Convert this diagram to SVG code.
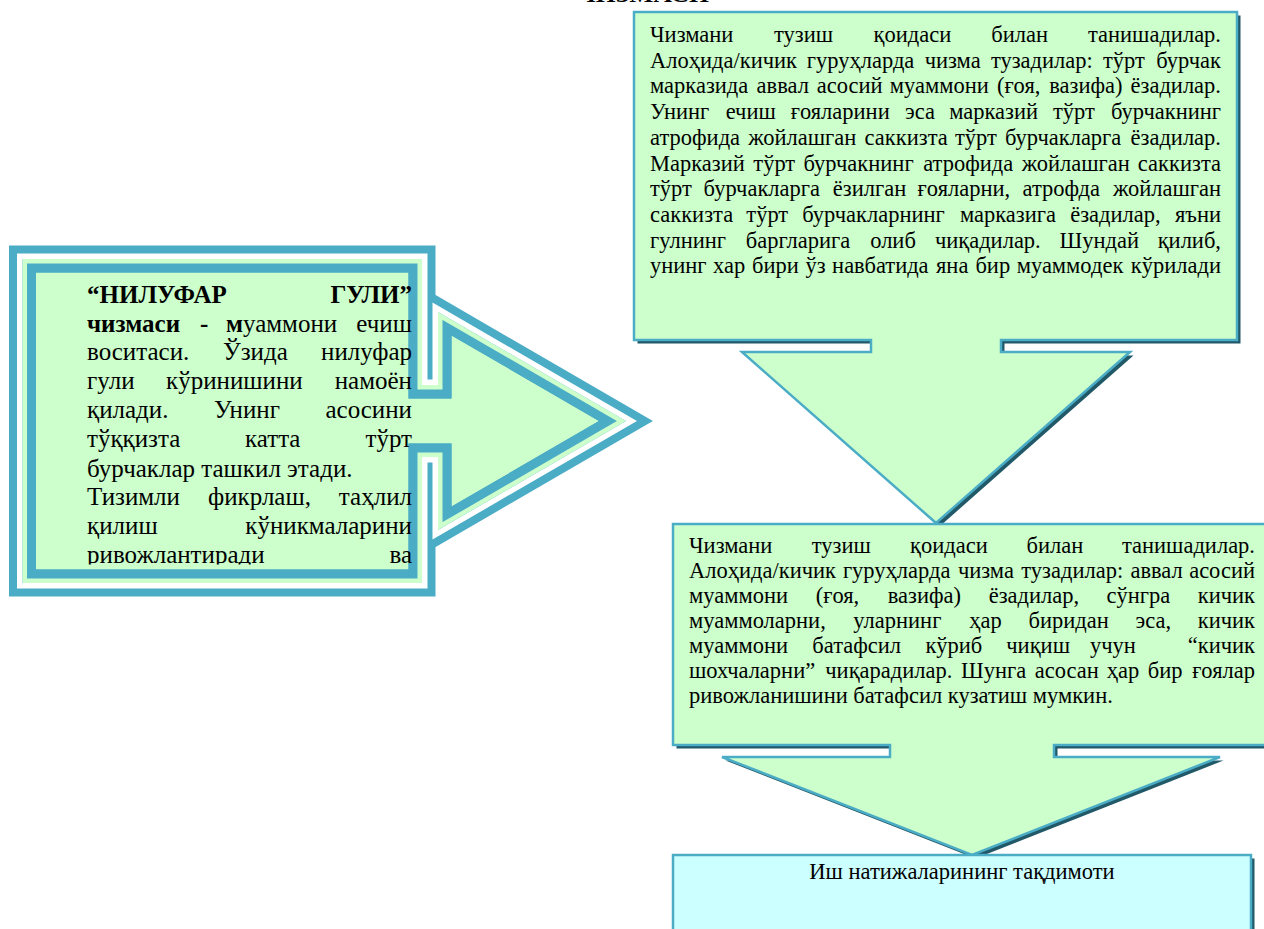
<svg xmlns="http://www.w3.org/2000/svg" width="1264" height="929" viewBox="0 0 1264 929">
<style>
.t{font-family:"Liberation Serif","Times New Roman",serif;font-size:22.5px;fill:#000}
.tl{font-family:"Liberation Serif","Times New Roman",serif;font-size:25px;fill:#000}
.b{font-weight:bold}
.e{text-anchor:end}
.m{text-anchor:middle}
.box{fill:#CCFFCC;stroke:#4BACC6;stroke-width:2.5;stroke-linejoin:miter}
.cy{fill:#CCFFFF;stroke:#4BACC6;stroke-width:2.5}
.sh{fill:#215968}
</style>
<defs>
<clipPath id="lin"><path d="M22.5,259 H422 V385 H438 V312 L626,421 L438,530 V457 H422 V583 H22.5 Z"/></clipPath>
<clipPath id="ltxt"><rect x="0" y="0" width="440" height="564.5"/></clipPath>
</defs>
<rect width="1264" height="929" fill="#fff"/>
<text class="t b" x="577" y="2" font-size="24" textLength="132" lengthAdjust="spacingAndGlyphs">ЧИЗМАСИ</text>

<g id="connectors"></g>

<g id="node-left">
<path d="M22.5,259 H422 V385 H438 V312 L626,421 L438,530 V457 H422 V583 H22.5 Z" fill="#CCFFCC" stroke="#4BACC6" stroke-width="27"/>
<path d="M22.5,259 H422 V385 H438 V312 L626,421 L438,530 V457 H422 V583 H22.5 Z" fill="none" stroke="#fff" stroke-width="11"/>
<g clip-path="url(#lin)">
<path d="M22.5,259 H422 V385 H438 V312 L626,421 L438,530 V457 H422 V583 H22.5 Z" fill="none" stroke="#4BACC6" stroke-width="27"/>
<path d="M22.5,259 H422 V385 H438 V312 L626,421 L438,530 V457 H422 V583 H22.5 Z" fill="none" stroke="#CCFFCC" stroke-width="9"/>
</g>
<g clip-path="url(#ltxt)">
<text class="tl b" x="87" y="303">“НИЛУФАР</text><text class="tl b e" x="412" y="303">ГУЛИ”</text>
<text class="tl" y="332"><tspan x="87" font-weight="bold">чизмаси</tspan><tspan x="200" font-weight="bold">-</tspan><tspan x="226" font-weight="bold">м</tspan><tspan>уаммони</tspan></text><text class="tl e" x="412" y="332">ечиш</text>
<text class="tl" y="360"><tspan x="87">воситаси.</tspan><tspan x="223">Ўзида</tspan></text><text class="tl e" x="412" y="360">нилуфар</text>
<text class="tl" y="389"><tspan x="87">гули</tspan><tspan x="166">кўринишини</tspan></text><text class="tl e" x="412" y="389">намоён</text>
<text class="tl" y="418"><tspan x="87">қилади.</tspan><tspan x="214">Унинг</tspan></text><text class="tl e" x="412" y="418">асосини</text>
<text class="tl" y="447"><tspan x="87">тўққизта</tspan><tspan x="245">катта</tspan></text><text class="tl e" x="412" y="447">тўрт</text>
<text class="tl" x="87" y="477">бурчаклар ташкил этади.</text>
<text class="tl" y="505"><tspan x="87">Тизимли</tspan><tspan x="208">фикрлаш,</tspan></text><text class="tl e" x="412" y="505">таҳлил</text>
<text class="tl" x="87" y="534">қилиш</text><text class="tl e" x="412" y="534">кўникмаларини</text>
<text class="tl" x="87" y="563">ривожлантиради</text><text class="tl e" x="412" y="563">ва</text>
</g>
</g>

<g id="node-top">
<path class="sh" transform="translate(3.5,3.5)" d="M634,12 H1237 V340 H1001 V352 H1130 L936,523 L742,352 H871 V340 H634 Z"/>
<path class="box" d="M634,12 H1237 V340 H1001 V352 H1130 L936,523 L742,352 H871 V340 H634 Z"/>
<text class="t" y="42"><tspan x="650">Чизмани</tspan><tspan x="774">тузиш</tspan><tspan x="873.5">қоидаси</tspan><tspan x="991.3">билан</tspan></text><text class="t e" x="1221" y="42">танишадилар.</text>
<text class="t" y="67.7"><tspan x="650">Алоҳида/кичик</tspan><tspan x="806.8">гуруҳларда</tspan><tspan x="924.7">чизма</tspan><tspan x="990.9">тузадилар:</tspan><tspan x="1102.9">тўрт</tspan></text><text class="t e" x="1221" y="67.7">бурчак</text>
<text class="t" y="93.4"><tspan x="650">марказида</tspan><tspan x="756.6">аввал</tspan><tspan x="816.8">асосий</tspan><tspan x="889.8">муаммони</tspan><tspan x="996.9">(ғоя,</tspan><tspan x="1049.2">вазифа)</tspan></text><text class="t e" x="1221" y="93.4">ёзадилар.</text>
<text class="t" y="119.1"><tspan x="650">Унинг</tspan><tspan x="725.7">ечиш</tspan><tspan x="790.7">ғояларини</tspan><tspan x="905.1">эса</tspan><tspan x="949.2">марказий</tspan><tspan x="1052.9">тўрт</tspan></text><text class="t e" x="1221" y="119.1">бурчакнинг</text>
<text class="t" y="144.8"><tspan x="650">атрофида</tspan><tspan x="748.2">жойлашган</tspan><tspan x="864.6">саккизта</tspan><tspan x="955">тўрт</tspan><tspan x="1004.9">бурчакларга</tspan></text><text class="t e" x="1221" y="144.8">ёзадилар.</text>
<text class="t" y="170.5"><tspan x="650">Марказий</tspan><tspan x="753.3">тўрт</tspan><tspan x="803.5">бурчакнинг</tspan><tspan x="923.2">атрофида</tspan><tspan x="1021.7">жойлашган</tspan></text><text class="t e" x="1221" y="170.5">саккизта</text>
<text class="t" y="196.2"><tspan x="650">тўрт</tspan><tspan x="703.6">бурчакларга</tspan><tspan x="832.8">ёзилган</tspan><tspan x="917.6">ғояларни,</tspan><tspan x="1022.6">атрофда</tspan></text><text class="t e" x="1221" y="196.2">жойлашган</text>
<text class="t" y="221.9"><tspan x="650">саккизта</tspan><tspan x="746.3">тўрт</tspan><tspan x="802.2">бурчакларнинг</tspan><tspan x="959.9">марказига</tspan><tspan x="1070.2">ёзадилар,</tspan></text><text class="t e" x="1221" y="221.9">яъни</text>
<text class="t" y="247.6"><tspan x="650">гулнинг</tspan><tspan x="745.8">баргларига</tspan><tspan x="870.2">олиб</tspan><tspan x="934.9">чиқадилар.</tspan><tspan x="1059.5">Шундай</tspan></text><text class="t e" x="1221" y="247.6">қилиб,</text>
<text class="t" y="273.3"><tspan x="650">унинг</tspan><tspan x="713.1">хар</tspan><tspan x="752.1">бири</tspan><tspan x="805.4">ўз</tspan><tspan x="832.1">навбатида</tspan><tspan x="936">яна</tspan><tspan x="975.4">бир</tspan><tspan x="1016.7">муаммодек</tspan></text><text class="t e" x="1221" y="273.3">кўрилади</text>
</g>

<g id="node-middle">
<path class="sh" transform="translate(3.5,3.5)" d="M673,524 H1275 V745 H1054 V757 H1220 L972,855 L722,757 H890 V745 H673 Z"/>
<path class="box" d="M673,524 H1275 V745 H1054 V757 H1220 L972,855 L722,757 H890 V745 H673 Z"/>
<text class="t" y="553"><tspan x="689">Чизмани</tspan><tspan x="811.8">тузиш</tspan><tspan x="910">қоидаси</tspan><tspan x="1026.6">билан</tspan></text><text class="t e" x="1255" y="553">танишадилар.</text>
<text class="t" y="578"><tspan x="689">Алоҳида/кичик</tspan><tspan x="842.9">гуруҳларда</tspan><tspan x="957.9">чизма</tspan><tspan x="1021.3">тузадилар:</tspan><tspan x="1130.4">аввал</tspan></text><text class="t e" x="1255" y="578">асосий</text>
<text class="t" y="603"><tspan x="689">муаммони</tspan><tspan x="815.7">(ғоя,</tspan><tspan x="887.7">вазифа)</tspan><tspan x="988.7">ёзадилар,</tspan><tspan x="1106.6">сўнгра</tspan></text><text class="t e" x="1255" y="603">кичик</text>
<text class="t" y="628"><tspan x="689">муаммоларни,</tspan><tspan x="853.3">уларнинг</tspan><tspan x="969.2">ҳар</tspan><tspan x="1028.5">биридан</tspan><tspan x="1135.6">эса,</tspan></text><text class="t e" x="1255" y="628">кичик</text>
<text class="t" y="653"><tspan x="689">муаммони</tspan><tspan x="812.3">батафсил</tspan><tspan x="925.4">кўриб</tspan><tspan x="1006.3">чиқиш</tspan><tspan x="1090">учун</tspan></text><text class="t e" x="1255" y="653">“кичик</text>
<text class="t" y="678"><tspan x="689">шохчаларни”</tspan><tspan x="825.3">чиқарадилар.</tspan><tspan x="961">Шунга</tspan><tspan x="1034.8">асосан</tspan><tspan x="1106.7">ҳар</tspan><tspan x="1147.8">бир</tspan></text><text class="t e" x="1255" y="678">ғоялар</text>
<text class="t" x="689" y="703">ривожланишини батафсил кузатиш мумкин.</text>
</g>

<g id="node-bottom">
<rect class="sh" x="676.5" y="858.5" width="578" height="90"/>
<rect class="cy" x="673" y="855" width="578" height="90"/>
<text class="t m" x="962" y="879">Иш натижаларининг тақдимоти</text>
</g>
</svg>
